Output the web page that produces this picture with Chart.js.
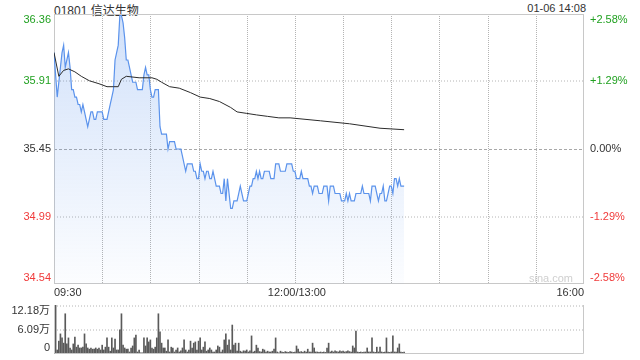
<!DOCTYPE html>
<html>
<head>
	<meta charset="utf-8" />
	<title>01801 信达生物</title>
	<script src="https://cdn.jsdelivr.net/npm/chart.js@4.4.1/dist/chart.umd.min.js"></script>
	<style>
		body {
			margin: 0;
			width: 640px;
			height: 360px;
			background: #fff;
			position: relative;
			overflow: hidden;
			font-family: "Liberation Sans", Arial, "Noto Sans CJK SC", sans-serif;
			color: #333;
		}
		#title { position: absolute; left: 54px; top: 1px; font-size: 12px; }
		#stamp { position: absolute; right: 54px; top: 2px; font-size: 11px; }
		#price { position: absolute; left: 0; top: 0; }
		#volume { position: absolute; left: 0; top: 300px; }
	</style>
</head>
<body>
	<div id="title">01801 信达生物</div>
	<div id="stamp">01-06 14:08</div>
	<canvas id="price" width="640" height="300"></canvas>
	<canvas id="volume" width="640" height="60"></canvas>

	<script>
		var prevClose = 35.45
		var priceTicks = [34.54, 34.99, 35.45, 35.91, 36.36]
		var priceLabels = ['34.54', '34.99', '35.45', '35.91', '36.36']
		var pctLabels = ['-2.58%', '-1.29%', '0.00%', '+1.29%', '+2.58%']
		var gridMinutes = [30, 60, 90, 120, 150, 180, 210, 240, 270, 300]
		var timeTicks = [0, 150, 330]
		var timeLabels = ['09:30', '12:00/13:00', '16:00']
		var volTicks = [0, 6.09, 12.18]
		var volLabels = ['0', '6.09万', '12.18万']

		// one price per minute from 09:30 (index 0) to 14:08
		var prices = [
			36.10, 35.95, 35.80, 35.90, 36.00, 36.10, 36.15, 36.00, 36.05, 36.10,
			36.00, 35.85, 35.85, 35.80, 35.80, 35.75, 35.75, 35.70, 35.75, 35.70,
			35.65, 35.60, 35.65, 35.70, 35.70, 35.65, 35.65, 35.70, 35.70, 35.70,
			35.70, 35.65, 35.65, 35.65, 35.70, 35.75, 35.80, 35.85, 36.05, 36.10,
			36.15, 36.35, 36.35, 36.30, 36.20, 36.05, 36.05, 36.00, 35.95, 35.90,
			35.90, 35.90, 35.85, 35.85, 35.85, 35.85, 35.95, 36.00, 35.95, 35.95,
			35.85, 35.80, 35.80, 35.85, 35.85, 35.85, 35.60, 35.55, 35.55, 35.55,
			35.55, 35.45, 35.50, 35.50, 35.50, 35.50, 35.45, 35.45, 35.45, 35.45,
			35.40, 35.35, 35.30, 35.35, 35.35, 35.35, 35.35, 35.30, 35.30, 35.25,
			35.25, 35.35, 35.30, 35.30, 35.25, 35.30, 35.30, 35.25, 35.25, 35.30,
			35.25, 35.20, 35.20, 35.20, 35.15, 35.15, 35.25, 35.10, 35.25, 35.15,
			35.05, 35.05, 35.10, 35.10, 35.10, 35.15, 35.20, 35.15, 35.10, 35.10,
			35.10, 35.15, 35.20, 35.20, 35.25, 35.25, 35.30, 35.25, 35.30, 35.25,
			35.25, 35.30, 35.30, 35.30, 35.30, 35.25, 35.25, 35.25, 35.35, 35.35,
			35.35, 35.30, 35.30, 35.30, 35.30, 35.35, 35.35, 35.35, 35.35, 35.30,
			35.30, 35.25, 35.25, 35.25, 35.30, 35.25, 35.25, 35.25, 35.25, 35.20,
			35.20, 35.15, 35.20, 35.20, 35.20, 35.15, 35.15, 35.15, 35.20, 35.20,
			35.20, 35.10, 35.20, 35.20, 35.20, 35.15, 35.15, 35.15, 35.15, 35.10,
			35.10, 35.10, 35.15, 35.10, 35.15, 35.10, 35.10, 35.10, 35.15, 35.15,
			35.15, 35.15, 35.20, 35.15, 35.15, 35.15, 35.15, 35.10, 35.20, 35.20,
			35.20, 35.15, 35.10, 35.15, 35.15, 35.20, 35.10, 35.10, 35.15, 35.20,
			35.20, 35.15, 35.25, 35.25, 35.20, 35.25, 35.20, 35.20, 35.20
		]

		// average price line, read at a few minutes
		var avgMinutes = [0, 3, 6, 9, 13, 17, 22, 28, 33, 37, 40, 42, 45, 53, 61, 64, 67, 72, 78, 85, 91, 97, 103, 110, 114, 120, 126, 133, 140, 147, 166, 184, 203, 218]
		var avgPrices = [36.10, 35.94, 35.98, 35.99, 35.97, 35.94, 35.91, 35.89, 35.87, 35.87, 35.87, 35.92, 35.94, 35.93, 35.93, 35.92, 35.90, 35.87, 35.86, 35.83, 35.80, 35.79, 35.77, 35.73, 35.70, 35.69, 35.68, 35.67, 35.66, 35.66, 35.64, 35.62, 35.59, 35.58]

		// volume per minute, in 万 shares
		var volumes = [
			10.0, 12.18, 1.0, 3.2, 5.0, 4.0, 2.7, 10.0, 2.5, 4.0,
			1.5, 1.0, 2.5, 4.2, 1.7, 2.2, 1.5, 1.5, 1.7, 5.0,
			2.5, 1.5, 1.2, 1.5, 1.2, 1.2, 1.5, 1.2, 1.5, 1.0,
			2.2, 1.0, 1.7, 4.0, 1.7, 0.7, 4.0, 1.5, 3.7, 1.0,
			1.0, 6.0, 10.0, 2.2, 1.5, 1.2, 1.2, 0.5, 1.5, 2.0,
			4.0, 4.7, 0.5, 1.0, 0.3, 0.3, 4.0, 2.0, 4.0, 3.0,
			3.5, 1.5, 1.2, 1.7, 4.0, 10.0, 5.5, 2.7, 1.5, 1.5,
			0.7, 3.5, 0.5, 1.7, 1.5, 0.5, 1.0, 1.5, 0.5, 0.8,
			1.5, 3.5, 1.0, 0.5, 1.0, 3.2, 1.5, 2.7, 3.0, 1.0,
			3.2, 4.0, 1.0, 1.7, 3.0, 0.7, 1.0, 1.5, 1.0, 0.5,
			0.5, 1.0, 2.0, 1.7, 0.5, 1.0, 3.5, 5.0, 2.2, 3.5,
			1.0, 7.2, 2.2, 2.7, 0.7, 2.7, 0.7, 0.5, 0.8, 0.7,
			1.0, 0.5, 0.8, 4.5, 0.5, 0.7, 2.2, 1.5, 0.6, 0.5,
			1.2, 1.0, 0.5, 0.7, 0.5, 0.5, 0.7, 1.2, 4.0, 0.5,
			0.3, 0.7, 0.5, 0.4, 0.6, 0.5, 0.4, 0.6, 0.5, 0.4,
			0.5, 2.0, 1.2, 0.5, 0.6, 0.4, 0.7, 0.5, 1.2, 0.5,
			0.5, 2.7, 1.5, 0.5, 0.5, 0.4, 0.5, 0.4, 0.5, 0.4,
			1.5, 2.7, 0.5, 0.7, 0.5, 0.8, 0.6, 0.5, 0.8, 0.6,
			0.7, 0.5, 0.6, 0.8, 0.6, 0.5, 2.0, 1.5, 5.7, 0.5,
			0.4, 0.5, 0.4, 0.5, 0.5, 1.5, 0.5, 0.5, 4.0, 0.5,
			0.4, 1.7, 0.5, 1.7, 0.5, 0.4, 0.5, 4.0, 0.5, 0.4,
			0.5, 4.5, 0.5, 0.5, 1.5, 2.5, 0.5, 0.4, 0.5
		]

		var FONT = '11px "Liberation Sans", Arial, "Noto Sans CJK SC", sans-serif'
		var GRID = '#b4b4b4'
		var FRAME = '#c8c8c8'

		function labelColor(i) {
			if (i < 2) return '#f03a3a'
			if (i == 2) return '#333'
			return '#21a121'
		}

		function clampY(y, a) {
			return Math.min(Math.max(y, a.top + 6), a.bottom - 6)
		}

		function crisp(v) {
			return Math.round(v) + 0.5
		}

		function hLine(ctx, a, y) {
			ctx.beginPath()
			ctx.moveTo(a.left, y)
			ctx.lineTo(a.right, y)
			ctx.stroke()
		}

		var priceDecor = {
			id: 'priceDecor',
			beforeDatasetsDraw: function (chart) {
				var ctx = chart.ctx, a = chart.chartArea
				var ys = chart.scales.y, xs = chart.scales.x
				ctx.save()
				ctx.lineWidth = 1
				// dotted grid, soft (spread over two pixel rows)
				ctx.strokeStyle = GRID
				ctx.setLineDash([1, 2])
				hLine(ctx, a, Math.round(ys.getPixelForValue(priceTicks[1])))
				hLine(ctx, a, Math.round(ys.getPixelForValue(priceTicks[3])))
				ctx.setLineDash([1, 1])
				gridMinutes.forEach(function (m) {
					var x = crisp(xs.getPixelForValue(m))
					ctx.beginPath()
					ctx.moveTo(x, a.top)
					ctx.lineTo(x, a.bottom)
					ctx.stroke()
				})
				// previous close
				ctx.strokeStyle = '#a8a8a8'
				ctx.setLineDash([3, 2])
				hLine(ctx, a, crisp(ys.getPixelForValue(prevClose)))
				ctx.setLineDash([])
				ctx.strokeStyle = FRAME
				ctx.strokeRect(a.left + 0.5, a.top + 0.5, a.right - a.left - 1, a.bottom - a.top - 1)
				ctx.restore()
			},
			afterDraw: function (chart) {
				var ctx = chart.ctx, a = chart.chartArea
				var ys = chart.scales.y, xs = chart.scales.x
				ctx.save()
				ctx.font = FONT
				ctx.textBaseline = 'middle'
				for (var i = 0; i < priceTicks.length; i++) {
					var y = clampY(ys.getPixelForValue(priceTicks[i]), a)
					ctx.fillStyle = labelColor(i)
					ctx.textAlign = 'right'
					ctx.fillText(priceLabels[i], a.left - 3, y)
					ctx.textAlign = 'left'
					ctx.fillText(pctLabels[i], a.right + 6, y)
				}
				ctx.fillStyle = '#333'
				var aligns = ['left', 'center', 'right']
				for (var j = 0; j < timeTicks.length; j++) {
					ctx.textAlign = aligns[j]
					var x = xs.getPixelForValue(timeTicks[j])
					if (j == 1) x += 2
					ctx.fillText(timeLabels[j], x, a.bottom + 9)
				}
				ctx.fillStyle = '#cfcfcf'
				ctx.textAlign = 'right'
				ctx.fillText('sina.com', a.right - 11, a.bottom - 5)
				ctx.restore()
			}
		}

		var volDecor = {
			id: 'volDecor',
			beforeDatasetsDraw: function (chart) {
				var ctx = chart.ctx, a = chart.chartArea, ys = chart.scales.y
				ctx.save()
				ctx.lineWidth = 1
				ctx.strokeStyle = GRID
				ctx.setLineDash([1, 2])
				hLine(ctx, a, Math.round(ys.getPixelForValue(volTicks[1])))
				hLine(ctx, a, a.top + 1)
				ctx.restore()
			},
			afterDraw: function (chart) {
				var ctx = chart.ctx, a = chart.chartArea, ys = chart.scales.y
				ctx.save()
				ctx.strokeStyle = FRAME
				ctx.lineWidth = 1
				ctx.beginPath()
				ctx.moveTo(a.left + 0.5, a.top)
				ctx.lineTo(a.left + 0.5, a.bottom - 0.5)
				ctx.lineTo(a.right - 0.5, a.bottom - 0.5)
				ctx.lineTo(a.right - 0.5, a.top)
				ctx.stroke()
				ctx.font = FONT
				ctx.textBaseline = 'middle'
				ctx.textAlign = 'right'
				ctx.fillStyle = '#333'
				for (var i = 0; i < volTicks.length; i++) {
					var y = clampY(ys.getPixelForValue(volTicks[i]), a)
					ctx.fillText(volLabels[i], a.left - 4, y)
				}
				ctx.restore()
			}
		}

		var hiddenAxis = function (fitKey) {
			return {
				ticks: { display: false },
				grid: { display: false },
				border: { display: false },
				afterFit: function (s) { s[fitKey] = 0 }
			}
		}

		var pctx = document.getElementById('price').getContext('2d')
		var priceX = hiddenAxis('height')
		priceX.type = 'linear'
		priceX.min = 0
		priceX.max = 330
		var priceY = hiddenAxis('width')
		priceY.min = priceTicks[0]
		priceY.max = priceTicks[4]

		var priceChart = new Chart(pctx, {
			type: 'line',
			data: {
				datasets: [{
					label: 'avg',
					data: avgMinutes.map(function (m, k) { return { x: m, y: avgPrices[k] } }),
					borderColor: '#2b2b2b',
					borderWidth: 1,
					pointRadius: 0,
					fill: false
				}, {
					label: 'price',
					data: prices.map(function (p, i) { return { x: i, y: p } }),
					borderColor: '#5b93ec',
					borderWidth: 1.2,
					pointRadius: 0,
					fill: 'start',
					backgroundColor: function (c) {
						var a = c.chart.chartArea
						if (!a) return 'rgba(91,147,236,0.12)'
						var g = c.chart.ctx.createLinearGradient(0, a.top, 0, a.bottom)
						g.addColorStop(0, 'rgba(91,147,236,0.28)')
						g.addColorStop(1, 'rgba(91,147,236,0.02)')
						return g
					}
				}]
			},
			options: {
				responsive: false,
				animation: false,
				devicePixelRatio: 1,
				events: [],
				layout: { padding: { left: 54, right: 56, top: 14, bottom: 16 } },
				plugins: { legend: { display: false }, tooltip: { enabled: false } },
				scales: { x: priceX, y: priceY }
			},
			plugins: [priceDecor]
		})

		var vctx = document.getElementById('volume').getContext('2d')
		var volX = hiddenAxis('height')
		volX.type = 'linear'
		volX.min = 0
		volX.max = 330
		volX.offset = false
		var volY = hiddenAxis('width')
		volY.min = volTicks[0]
		volY.max = volTicks[2]

		var volChart = new Chart(vctx, {
			type: 'bar',
			data: {
				datasets: [{
					label: 'volume',
					data: volumes.map(function (v, i) { return { x: i, y: v } }),
					backgroundColor: '#5a5a5a',
					borderWidth: 0,
					barThickness: 1
				}]
			},
			options: {
				responsive: false,
				animation: false,
				devicePixelRatio: 1,
				events: [],
				layout: { padding: { left: 54, right: 56, top: 5, bottom: 6 } },
				plugins: { legend: { display: false }, tooltip: { enabled: false } },
				scales: { x: volX, y: volY }
			},
			plugins: [volDecor]
		})
	</script>
</body>
</html>
